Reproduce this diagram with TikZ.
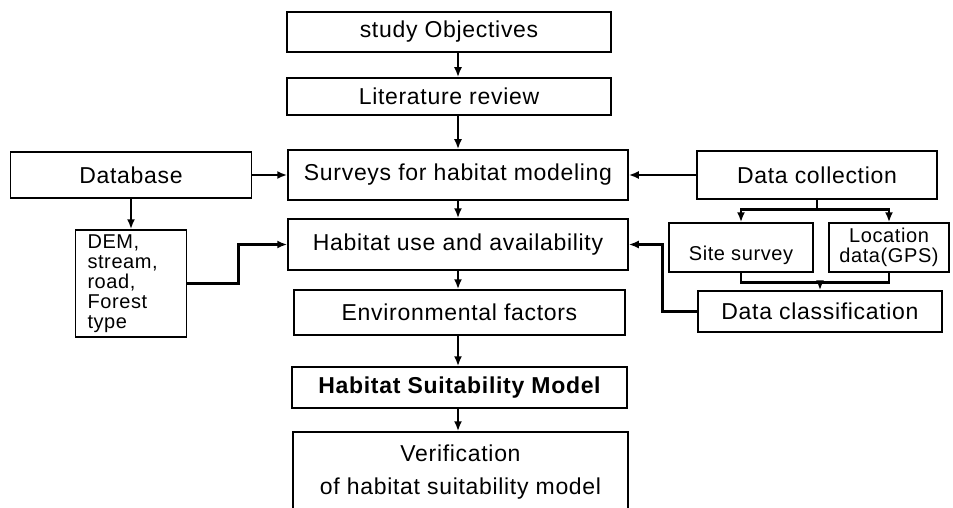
\documentclass[tikz,border=0pt]{standalone}
\usepackage{fontspec}
\setmainfont{Liberation Sans}[LetterSpace=3]
\usetikzlibrary{arrows.meta}
\tikzset{
  stepbox/.style={
    draw,
    line width=1.5pt,
    align=center,
    inner sep=0pt,
    font=\fontsize{23}{27}\selectfont
  },
  smallbox/.style={
    stepbox,
    font=\fontsize{20}{20}\selectfont
  },
  flowline/.style={
    line width=2.8pt
  },
  flowarrow/.style={
    flowline,
    -{Latex[length=10pt, width=8pt]}
  }
}
\begin{document}
\begin{tikzpicture}[x=1pt, y=-1pt]

  \path [use as bounding box, fill=white] (0,0) rectangle (953,508);
  \clip (0,0) rectangle (953,508);

  % Main column
  \node (obj) [stepbox, minimum width=324pt, minimum height=40pt] at (449,32) {study Objectives};
  \node (lit) [stepbox, minimum width=324pt, minimum height=37pt] at (449,96.5) {Literature review};
  \node (surv) [stepbox, minimum width=340pt, minimum height=50pt] at (458,175) {Surveys for habitat modeling};
  \node (use) [stepbox, minimum width=340pt, minimum height=51pt] at (458,244.5) {Habitat use and availability};
  \node (env) [stepbox, minimum width=331pt, minimum height=45pt] at (459.5,312.5) {Environmental factors};
  \node (hsm) [stepbox, minimum width=335pt, minimum height=41pt, font=\fontsize{23}{27}\selectfont\bfseries] at (459.5,387.5) {Habitat Suitability Model};
  \node (ver) [stepbox, minimum width=335pt, minimum height=80pt] at (460.5,472) {Verification\\[6pt]of habitat suitability model};

  % Left side
  \node (db) [stepbox, minimum width=241pt, minimum height=46pt] at (131,175) {Database};
  \node (dem) [smallbox, align=left, text width=87pt, inner xsep=12pt, minimum width=111pt, minimum height=107pt] at (131,283.5) {DEM,\\stream,\\road,\\Forest\\type};

  % Right side
  \node (dcol) [stepbox, minimum width=240pt, minimum height=48pt] at (817,175) {Data collection};
  \node (site) [smallbox, text height=29pt, text depth=4pt, minimum width=144pt, minimum height=49pt] at (741,247.5) {Site survey};
  \node (gps) [smallbox, minimum width=120pt, minimum height=49pt] at (889,247.5) {Location\\data(GPS)};
  \node (dcls) [stepbox, minimum width=244pt, minimum height=41pt] at (820,311.5) {Data classification};

  % Connectors
  \draw [flowarrow] (obj.south -| use.south) -- (lit.north -| use.south);
  \draw [flowarrow] (lit.south -| use.south) -- (surv.north -| use.south);
  \draw [flowarrow] (surv) -- (use);
  \draw [flowarrow] (use.south) -- (env.north -| use.south);
  \draw [flowarrow] (env.south -| use.south) -- (hsm.north -| use.south);
  \draw [flowarrow] (hsm.south -| use.south) -- (ver.north -| use.south);

  \draw [flowarrow] (db) -- (surv);
  \draw [flowarrow] (dcol) -- (surv);
  \draw [flowarrow] (db) -- (dem);
  \draw [flowarrow] (dem.east) -- ++(51,0) |- (use.west);

  \draw [flowline] (dcol.south) -- ++(0,10) coordinate (split);
  \draw [flowarrow] (split) -| (site.north);
  \draw [flowarrow] (split) -| (gps.north);
  \draw [flowline] (site.south) -- ++(0,10) coordinate (merge) -| (gps.south);
  \draw [flowarrow] (merge -| dcls.north) -- (dcls.north);
  \draw [flowarrow] (dcls.west) -- ++(-35,0) |- (use.east);

\end{tikzpicture}
\end{document}
